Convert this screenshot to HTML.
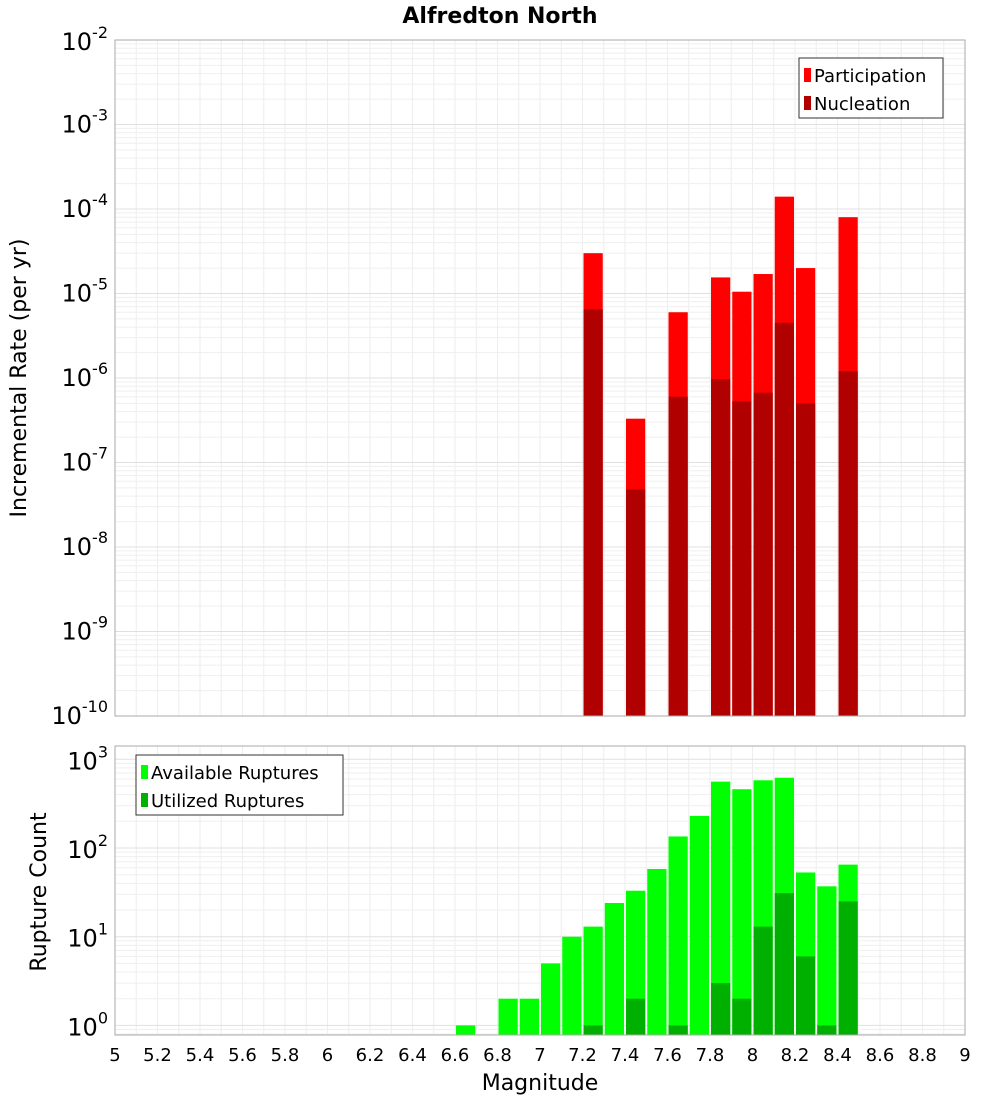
<!DOCTYPE html>
<html><head><meta charset="utf-8"><style>
body{margin:0;background:#fff;font-family:"DejaVu Sans","Liberation Sans",sans-serif}
</style></head><body>
<svg id="c" width="1000" height="1100" xmlns="http://www.w3.org/2000/svg"></svg>
<script>
const bins=[6.65,6.85,6.95,7.05,7.15,7.25,7.35,7.45,7.55,7.65,7.75,7.85,7.95,8.05,8.15,8.25,8.35,8.45];
const partMags=[7.25,7.45,7.65,7.85,7.95,8.05,8.15,8.25,8.45];
const participation=[3e-5,3.3e-7,6e-6,1.55e-5,1.05e-5,1.7e-5,1.4e-4,2e-5,8e-5];
const nucleation=[6.5e-6,4.8e-8,6e-7,9.7e-7,5.3e-7,6.7e-7,4.5e-6,5e-7,1.2e-6];
const available=[1,2,2,5,10,13,24,33,58,135,230,560,460,580,620,53,37,65];
const utilizedMags=[7.25,7.45,7.65,7.85,7.95,8.05,8.15,8.25,8.35,8.45];
const utilized=[1,2,1,3,2,13,31,6,1,25];
const xTicks=[5,5.2,5.4,5.6,5.8,6,6.2,6.4,6.6,6.8,7,7.2,7.4,7.6,7.8,8,8.2,8.4,8.6,8.8,9];

const S=document.getElementById('c'),NS='http://www.w3.org/2000/svg';
function mk(t,a,p){const e=document.createElementNS(NS,t);for(const k in a)e.setAttribute(k,a[k]);(p||S).appendChild(e);return e;}
const X0=115,X1=965;
const xs=m=>X0+(m-5)/4*(X1-X0);
const pTop={y0:40,y1:716,lmin:-10,lmax:-2};
const pBot={y0:746,y1:1035,lmin:Math.log10(0.78),lmax:3.15};
function ys(p,v){return p.y1-(Math.log10(v)-p.lmin)/(p.lmax-p.lmin)*(p.y1-p.y0);}

function grid(p){
  mk('rect',{x:X0,y:p.y0,width:X1-X0,height:p.y1-p.y0,fill:'#fff'});
  for(let i=0;i<=40;i++){const x=xs(5+i*0.1);mk('line',{x1:x,x2:x,y1:p.y0,y2:p.y1,stroke:'#eee','stroke-width':1});}
  for(let d=Math.floor(p.lmin);d<Math.ceil(p.lmax);d++)for(let k=1;k<10;k++){
    const l=d+Math.log10(k);if(l<p.lmin||l>p.lmax)continue;const y=ys(p,Math.pow(10,l));
    mk('line',{x1:X0,x2:X1,y1:y,y2:y,stroke:k==1?'#e0e0e0':'#efefef','stroke-width':1});}
}
function bars(p,mags,vals,col,name){
  mags.forEach((m,i)=>{const yt=ys(p,vals[i]);const r=mk('rect',{x:xs(m-0.05)+1,y:yt,width:xs(m+0.05)-xs(m-0.05)-2,height:p.y1-yt,fill:col});
  
  });
}
grid(pTop);grid(pBot);
bars(pTop,partMags,participation,'#ff0000','participation-bar');
bars(pTop,partMags,nucleation,'#b00000','nucleation-bar');
bars(pBot,bins,available,'#00ff00','available-bar');
bars(pBot,utilizedMags,utilized,'#00b000','utilized-bar');
[pTop,pBot].forEach(p=>mk('rect',{x:X0,y:p.y0,width:X1-X0,height:p.y1-p.y0,fill:'none',stroke:'#aaa'}));

function ylab(d,y){const t=mk('text',{x:108,y:y,'text-anchor':'end','font-size':24,fill:'#000'});
  
  
  const a=mk('tspan',{},t);a.textContent='10';
  const b=mk('tspan',{dy:-12,'font-size':16},t);b.textContent=String(d);}
for(let d=-2;d>=-10;d--){const y=ys(pTop,Math.pow(10,d));ylab(d,y+(d==-2?10:8));}
for(let d=0;d<=3;d++){const y=ys(pBot,Math.pow(10,d));ylab(d,Math.min(y+10,1037));}
xTicks.forEach(v=>{const t=mk('text',{x:xs(v),y:1061,'text-anchor':'middle','font-size':18});
  
  
  t.textContent=String(v);});
let t=mk('text',{x:540,y:1090,'text-anchor':'middle','font-size':22});t.textContent='Magnitude';


t=mk('text',{x:500,y:23,'text-anchor':'middle','font-size':22,'font-weight':'bold'});t.textContent='Alfredton North';


t=mk('text',{x:26,y:378,'text-anchor':'middle','font-size':22,transform:'rotate(-90 26 378)'});t.textContent='Incremental Rate (per yr)';


t=mk('text',{x:46,y:892,'text-anchor':'middle','font-size':22,transform:'rotate(-90 46 892)'});t.textContent='Rupture Count';



function legend(x,y,w,items,name){const g=mk('g',{});
  
  
  mk('rect',{x:x,y:y,width:w,height:60,fill:'#fff',stroke:'#333'},g);
  items.forEach((it,i)=>{mk('rect',{x:x+5,y:y+10+i*28,width:7,height:14,fill:it[1]},g);
   const tt=mk('text',{x:x+15,y:y+24+i*28,'font-size':18},g);tt.textContent=it[0];});}
legend(799,58,144,[['Participation','#ff0000'],['Nucleation','#b00000']],'top-legend');
legend(136,755,207,[['Available Ruptures','#00ff00'],['Utilized Ruptures','#00b000']],'bottom-legend');
</script>
</body></html>
